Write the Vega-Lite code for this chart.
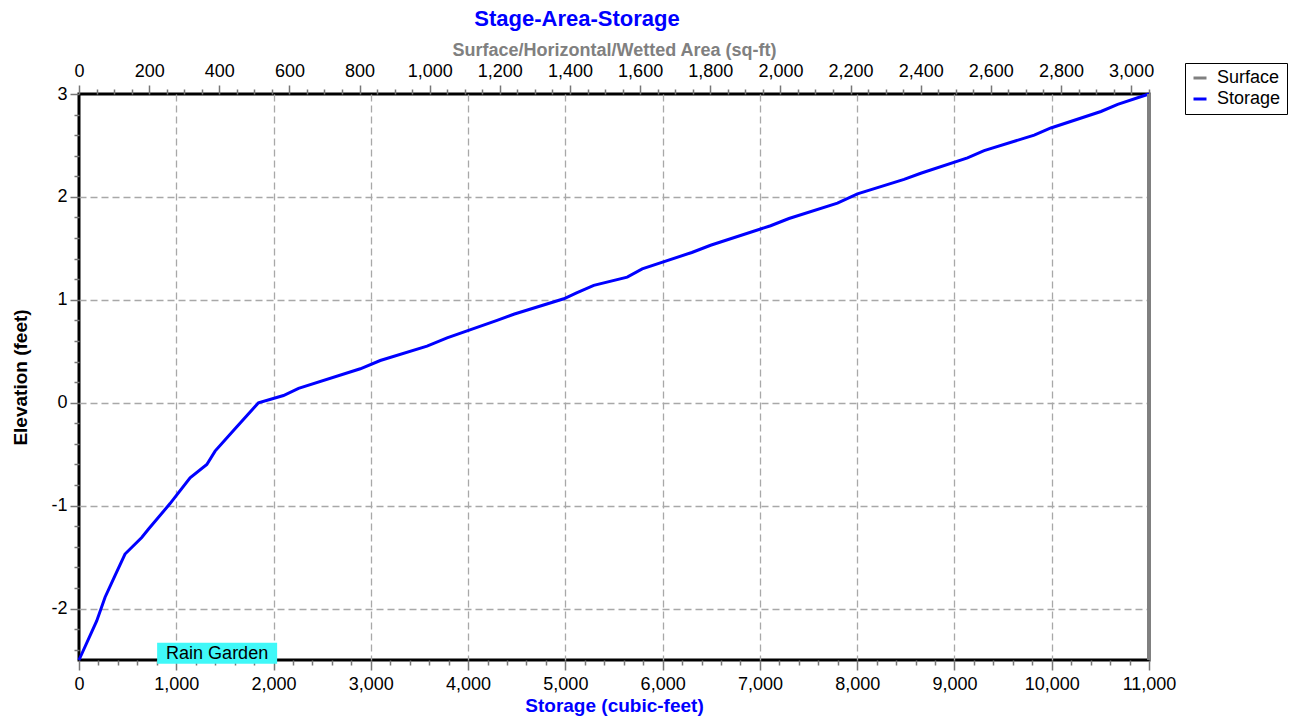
{
  "$schema": "https://vega.github.io/schema/vega-lite/v6.json",
  "width": 1070,
  "height": 566,
  "autosize": "none",
  "padding": {"left": 79, "top": 94, "right": 150, "bottom": 59},
  "background": "white",
  "config": {
    "view": {"stroke": "black", "strokeWidth": 3},
    "font": "Liberation Sans",
    "axis": {
      "grid": true,
      "gridDash": [7, 4],
      "gridColor": "#a8a8a8",
      "gridWidth": 1.3,
      "domain": false,
      "tickColor": "#777777",
      "tickWidth": 1.5,
      "labelFontSize": 18,
      "labelColor": "black",
      "labelOverlap": false,
      "labelFlush": false,
      "titleFontWeight": "bold"
    }
  },
  "title": {
    "text": "Stage-Area-Storage",
    "color": "#0000ff",
    "font": "Liberation Sans",
    "fontSize": 22,
    "fontWeight": "bold",
    "anchor": "middle",
    "dx": -37,
    "offset": 10
  },
  "datasets": {
    "storage": [
      {"storage": 0, "elevation": -2.5, "series": "Storage"},
      {"storage": 182, "elevation": -2.12, "series": "Storage"},
      {"storage": 268, "elevation": -1.89, "series": "Storage"},
      {"storage": 370, "elevation": -1.68, "series": "Storage"},
      {"storage": 473, "elevation": -1.47, "series": "Storage"},
      {"storage": 645, "elevation": -1.31, "series": "Storage"},
      {"storage": 713, "elevation": -1.23, "series": "Storage"},
      {"storage": 936, "elevation": -0.98, "series": "Storage"},
      {"storage": 1142, "elevation": -0.73, "series": "Storage"},
      {"storage": 1314, "elevation": -0.6, "series": "Storage"},
      {"storage": 1399, "elevation": -0.47, "series": "Storage"},
      {"storage": 1588, "elevation": -0.27, "series": "Storage"},
      {"storage": 1845, "elevation": 0.0, "series": "Storage"},
      {"storage": 2102, "elevation": 0.07, "series": "Storage"},
      {"storage": 2257, "elevation": 0.14, "series": "Storage"},
      {"storage": 2892, "elevation": 0.33, "series": "Storage"},
      {"storage": 3097, "elevation": 0.41, "series": "Storage"},
      {"storage": 3578, "elevation": 0.55, "series": "Storage"},
      {"storage": 3784, "elevation": 0.63, "series": "Storage"},
      {"storage": 4298, "elevation": 0.8, "series": "Storage"},
      {"storage": 4469, "elevation": 0.86, "series": "Storage"},
      {"storage": 4984, "elevation": 1.01, "series": "Storage"},
      {"storage": 5121, "elevation": 1.07, "series": "Storage"},
      {"storage": 5292, "elevation": 1.14, "series": "Storage"},
      {"storage": 5636, "elevation": 1.22, "series": "Storage"},
      {"storage": 5790, "elevation": 1.3, "series": "Storage"},
      {"storage": 6300, "elevation": 1.46, "series": "Storage"},
      {"storage": 6493, "elevation": 1.53, "series": "Storage"},
      {"storage": 7110, "elevation": 1.72, "series": "Storage"},
      {"storage": 7299, "elevation": 1.79, "series": "Storage"},
      {"storage": 7797, "elevation": 1.94, "series": "Storage"},
      {"storage": 8003, "elevation": 2.03, "series": "Storage"},
      {"storage": 8482, "elevation": 2.17, "series": "Storage"},
      {"storage": 8654, "elevation": 2.23, "series": "Storage"},
      {"storage": 9134, "elevation": 2.38, "series": "Storage"},
      {"storage": 9305, "elevation": 2.45, "series": "Storage"},
      {"storage": 9820, "elevation": 2.6, "series": "Storage"},
      {"storage": 9991, "elevation": 2.67, "series": "Storage"},
      {"storage": 10506, "elevation": 2.83, "series": "Storage"},
      {"storage": 10678, "elevation": 2.9, "series": "Storage"},
      {"storage": 11000, "elevation": 3.0, "series": "Storage"}
    ],
    "surface": [
      {"area": 3051, "elevation": -2.5, "series": "Surface"},
      {"area": 3051, "elevation": 3.0, "series": "Surface"}
    ],
    "label": [
      {"label": "Rain Garden"}
    ]
  },
  "layer": [
    {
      "layer": [
        {
          "data": {"name": "storage"},
          "mark": {"type": "line", "strokeWidth": 3},
          "encoding": {
            "x": {
              "field": "storage",
              "type": "quantitative",
              "scale": {"domain": [0, 11000], "nice": false, "zero": false},
              "axis": {
                "orient": "bottom",
                "values": [0,200,400,600,800,1000,1200,1400,1600,1800,2000,2200,2400,2600,2800,3000,3200,3400,3600,3800,4000,4200,4400,4600,4800,5000,5200,5400,5600,5800,6000,6200,6400,6600,6800,7000,7200,7400,7600,7800,8000,8200,8400,8600,8800,9000,9200,9400,9600,9800,10000,10200,10400,10600,10800,11000],
                "labelExpr": "datum.value % 1000 === 0 ? format(datum.value, ',') : ''",
                "tickSize": {"condition": {"test": "datum.value % 1000 === 0", "value": 10}, "value": 5},
                "gridOpacity": {"condition": {"test": "datum.value % 1000 === 0 && datum.value > 0 && datum.value < 11000", "value": 1}, "value": 0},
                "labelPadding": 5,
                "title": "Storage (cubic-feet)",
                "titleColor": "#0000ff",
                "titleFontSize": 19,
                "titlePadding": 3
              }
            },
            "y": {
              "field": "elevation",
              "type": "quantitative",
              "scale": {"domain": [-2.5, 3], "nice": false, "zero": false},
              "axis": {
                "values": [-2.4,-2.2,-2,-1.8,-1.6,-1.4,-1.2,-1,-0.8,-0.6,-0.4,-0.2,0,0.2,0.4,0.6,0.8,1,1.2,1.4,1.6,1.8,2,2.2,2.4,2.6,2.8,3],
                "labelExpr": "abs(datum.value - round(datum.value)) < 0.01 ? toString(round(datum.value)) : ''",
                "tickSize": {"condition": {"test": "abs(datum.value - round(datum.value)) < 0.01", "value": 9}, "value": 5},
                "gridOpacity": {"condition": {"test": "abs(datum.value - round(datum.value)) < 0.01 && datum.value < 2.9", "value": 1}, "value": 0},
                "labelPadding": 3,
                "title": "Elevation  (feet)",
                "titleColor": "black",
                "titleFontSize": 19,
                "titlePadding": 20
              }
            },
            "color": {
              "field": "series",
              "type": "nominal",
              "scale": {"domain": ["Surface", "Storage"], "range": ["#808080", "#0000ff"]},
              "legend": {
                "orient": "none",
                "legendX": 1106,
                "legendY": -31,
                "title": null,
                "strokeColor": "black",
                "fillColor": "white",
                "padding": 6,
                "symbolType": "stroke",
                "symbolStrokeWidth": 3,
                "symbolSize": 169,
                "labelFontSize": 18,
                "labelColor": "black",
                "labelOffset": 8,
                "rowPadding": 3
              }
            }
          }
        },
        {
          "data": {"name": "label"},
          "mark": {"type": "point", "shape": "M-1,-0.175H1V0.175H-1Z", "filled": true, "color": "#40f8f8", "opacity": 1, "size": 14400, "strokeWidth": 0},
          "encoding": {
            "x": {
              "datum": 1420,
              "type": "quantitative",
              "scale": {"domain": [0, 11000], "nice": false, "zero": false},
              "axis": {
                "orient": "bottom",
                "values": [0,200,400,600,800,1000,1200,1400,1600,1800,2000,2200,2400,2600,2800,3000,3200,3400,3600,3800,4000,4200,4400,4600,4800,5000,5200,5400,5600,5800,6000,6200,6400,6600,6800,7000,7200,7400,7600,7800,8000,8200,8400,8600,8800,9000,9200,9400,9600,9800,10000,10200,10400,10600,10800,11000],
                "labelExpr": "datum.value % 1000 === 0 ? format(datum.value, ',') : ''",
                "tickSize": {"condition": {"test": "datum.value % 1000 === 0", "value": 10}, "value": 5},
                "gridOpacity": {"condition": {"test": "datum.value % 1000 === 0 && datum.value > 0 && datum.value < 11000", "value": 1}, "value": 0},
                "labelPadding": 5,
                "title": "Storage (cubic-feet)",
                "titleColor": "#0000ff",
                "titleFontSize": 19,
                "titlePadding": 3
              }
            },
            "y": {
              "datum": -2.434,
              "type": "quantitative",
              "scale": {"domain": [-2.5, 3], "nice": false, "zero": false},
              "axis": {
                "values": [-2.4,-2.2,-2,-1.8,-1.6,-1.4,-1.2,-1,-0.8,-0.6,-0.4,-0.2,0,0.2,0.4,0.6,0.8,1,1.2,1.4,1.6,1.8,2,2.2,2.4,2.6,2.8,3],
                "labelExpr": "abs(datum.value - round(datum.value)) < 0.01 ? toString(round(datum.value)) : ''",
                "tickSize": {"condition": {"test": "abs(datum.value - round(datum.value)) < 0.01", "value": 9}, "value": 5},
                "gridOpacity": {"condition": {"test": "abs(datum.value - round(datum.value)) < 0.01 && datum.value < 2.9", "value": 1}, "value": 0},
                "labelPadding": 3,
                "title": "Elevation  (feet)",
                "titleColor": "black",
                "titleFontSize": 19,
                "titlePadding": 20
              }
            }
          }
        },
        {
          "data": {"name": "label"},
          "mark": {"type": "text", "fontSize": 18, "color": "black", "align": "center", "baseline": "middle", "dy": 1},
          "encoding": {
            "x": {
              "datum": 1420,
              "type": "quantitative",
              "scale": {"domain": [0, 11000], "nice": false, "zero": false},
              "axis": {
                "orient": "bottom",
                "values": [0,200,400,600,800,1000,1200,1400,1600,1800,2000,2200,2400,2600,2800,3000,3200,3400,3600,3800,4000,4200,4400,4600,4800,5000,5200,5400,5600,5800,6000,6200,6400,6600,6800,7000,7200,7400,7600,7800,8000,8200,8400,8600,8800,9000,9200,9400,9600,9800,10000,10200,10400,10600,10800,11000],
                "labelExpr": "datum.value % 1000 === 0 ? format(datum.value, ',') : ''",
                "tickSize": {"condition": {"test": "datum.value % 1000 === 0", "value": 10}, "value": 5},
                "gridOpacity": {"condition": {"test": "datum.value % 1000 === 0 && datum.value > 0 && datum.value < 11000", "value": 1}, "value": 0},
                "labelPadding": 5,
                "title": "Storage (cubic-feet)",
                "titleColor": "#0000ff",
                "titleFontSize": 19,
                "titlePadding": 3
              }
            },
            "y": {
              "datum": -2.434,
              "type": "quantitative",
              "scale": {"domain": [-2.5, 3], "nice": false, "zero": false},
              "axis": {
                "values": [-2.4,-2.2,-2,-1.8,-1.6,-1.4,-1.2,-1,-0.8,-0.6,-0.4,-0.2,0,0.2,0.4,0.6,0.8,1,1.2,1.4,1.6,1.8,2,2.2,2.4,2.6,2.8,3],
                "labelExpr": "abs(datum.value - round(datum.value)) < 0.01 ? toString(round(datum.value)) : ''",
                "tickSize": {"condition": {"test": "abs(datum.value - round(datum.value)) < 0.01", "value": 9}, "value": 5},
                "gridOpacity": {"condition": {"test": "abs(datum.value - round(datum.value)) < 0.01 && datum.value < 2.9", "value": 1}, "value": 0},
                "labelPadding": 3,
                "title": "Elevation  (feet)",
                "titleColor": "black",
                "titleFontSize": 19,
                "titlePadding": 20
              }
            },
            "text": {"field": "label", "type": "nominal"}
          }
        }
      ]
    },
    {
      "data": {"name": "surface"},
      "mark": {"type": "line", "strokeWidth": 4},
      "encoding": {
        "x": {
          "field": "area",
          "type": "quantitative",
          "scale": {"domain": [0, 3051], "nice": false, "zero": false},
          "axis": {
            "orient": "top",
            "values": [0,50,100,150,200,250,300,350,400,450,500,550,600,650,700,750,800,850,900,950,1000,1050,1100,1150,1200,1250,1300,1350,1400,1450,1500,1550,1600,1650,1700,1750,1800,1850,1900,1950,2000,2050,2100,2150,2200,2250,2300,2350,2400,2450,2500,2550,2600,2650,2700,2750,2800,2850,2900,2950,3000,3050],
            "labelExpr": "datum.value % 200 === 0 ? format(datum.value, ',') : ''",
            "tickSize": {"condition": {"test": "datum.value % 200 === 0", "value": 9}, "value": 5},
            "gridOpacity": {"condition": {"test": "datum.value % 200 === 0 && datum.value > 0", "value": 1}, "value": 0},
            "gridColor": "#b4b4b4",
            "labelPadding": 5,
            "title": "Surface/Horizontal/Wetted Area (sq-ft)",
            "titleColor": "#808080",
            "titleFontSize": 18,
            "titlePadding": 3
          }
        },
        "y": {
          "field": "elevation",
          "type": "quantitative",
          "scale": {"domain": [-2.5, 3], "nice": false, "zero": false},
          "axis": {
            "values": [-2.4,-2.2,-2,-1.8,-1.6,-1.4,-1.2,-1,-0.8,-0.6,-0.4,-0.2,0,0.2,0.4,0.6,0.8,1,1.2,1.4,1.6,1.8,2,2.2,2.4,2.6,2.8,3],
            "labelExpr": "abs(datum.value - round(datum.value)) < 0.01 ? toString(round(datum.value)) : ''",
            "tickSize": {"condition": {"test": "abs(datum.value - round(datum.value)) < 0.01", "value": 9}, "value": 5},
            "gridOpacity": {"condition": {"test": "abs(datum.value - round(datum.value)) < 0.01 && datum.value < 2.9", "value": 1}, "value": 0},
            "labelPadding": 3,
            "title": "Elevation  (feet)",
            "titleColor": "black",
            "titleFontSize": 19,
            "titlePadding": 20
          }
        },
        "color": {
          "field": "series",
          "type": "nominal",
          "scale": {"domain": ["Surface", "Storage"], "range": ["#808080", "#0000ff"]}
        }
      }
    }
  ],
  "resolve": {"scale": {"x": "independent"}}
}
